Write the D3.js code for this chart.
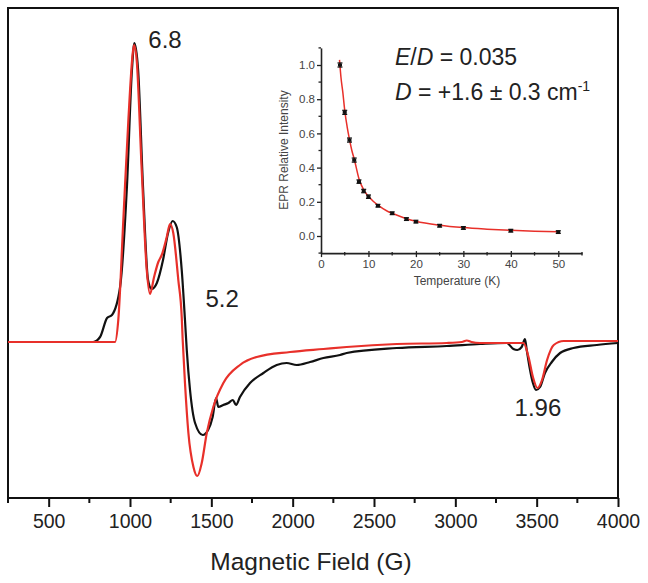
<!DOCTYPE html>
<html><head><meta charset="utf-8">
<script src="https://cdn.jsdelivr.net/npm/d3@7"></script>
<style>
html,body{margin:0;padding:0;background:#fff;}
svg{display:block;font-family:"Liberation Sans",Arial,sans-serif;}
</style></head>
<body><svg id="c" width="648" height="583"></svg>
<script>
// ---- main spectrum data (field in G, intensity in arb. units) ----
const expField = [250,700,773,816,859,889,939,981,1012,1027,1050,1080,1111,1133,1165,1203,1234,1262,1287,1318,1338,1349,1369,1400,1447,1480,1508,1529,1543,1574,1605,1632,1652,1676,1738,1820,1902,1963,2025,2107,2189,2291,2332,2640,2947,3152,3316,3357,3381,3408,3428,3439,3456,3477,3496,3521,3551,3593,3644,3726,3870,4000];
const expInt   = [0,0,0,0.05,0.24,0.27,0.55,1.55,2.72,2.99,2.72,1.55,0.62,0.53,0.59,0.82,1.09,1.21,1.15,0.72,0.22,-0.08,-0.48,-0.81,-0.93,-0.88,-0.75,-0.56,-0.65,-0.63,-0.61,-0.58,-0.63,-0.55,-0.41,-0.31,-0.23,-0.21,-0.23,-0.20,-0.16,-0.13,-0.11,-0.06,-0.04,-0.02,-0.01,-0.07,-0.08,-0.05,0.03,-0.08,-0.25,-0.41,-0.48,-0.45,-0.31,-0.20,-0.11,-0.06,-0.03,-0.01];
const simField = [250,908,928,959,990,1017,1025,1041,1072,1103,1123,1148,1174,1195,1226,1246,1266,1297,1318,1324,1338,1359,1390,1414,1441,1472,1512,1574,1676,1779,1984,2189,2332,2640,2947,3040,3070,3100,3152,3419,3450,3477,3505,3533,3564,3605,3666,4000];
const simInt   = [0,0,0.22,1.22,2.22,2.89,2.97,2.82,1.72,0.72,0.48,0.65,0.80,0.87,1.05,1.18,1.09,0.62,0.25,0.02,-0.41,-0.91,-1.25,-1.34,-1.21,-0.91,-0.65,-0.41,-0.23,-0.15,-0.10,-0.07,-0.05,-0.02,-0.01,0,0.015,0,-0.01,-0.01,-0.15,-0.35,-0.46,-0.38,-0.18,-0.03,0.01,0.01];
const fieldTicks = [500,1000,1500,2000,2500,3000,3500,4000];
const fieldMinor = [250,750,1250,1750,2250,2750,3250,3750];
const peakLabels = ["6.8","5.2","1.96"];
const peakFields = [1215,1566,3508];
const peakInts   = [2.94,0.35,-0.74];

// ---- inset data ----
const tempK    = [4,5,6,7,8,9,10,12,15,18,20,25,30,40,50];
const relInt   = [1.0,0.723,0.561,0.444,0.318,0.263,0.23,0.177,0.133,0.099,0.084,0.06,0.047,0.031,0.023];
const relErr   = [0.012,0.012,0.012,0.012,0.01,0.01,0.01,0.008,0.008,0.008,0.008,0.008,0.008,0.008,0.008];
const fitT     = [3.9,4.2,4.6,5,5.5,6,6.5,7,8,9,10,11,12,14,15,18,20,25,30,35,40,45,50];
const fitI     = [1.03,0.93,0.84,0.735,0.64,0.565,0.5,0.45,0.335,0.27,0.232,0.203,0.18,0.145,0.133,0.101,0.086,0.063,0.049,0.04,0.033,0.028,0.025];
const insetXTicks = [0,10,20,30,40,50];
const insetXMinor = [5,15,25,35,45,55];
const insetYTicks = [0.0,0.2,0.4,0.6,0.8,1.0];
const insetYMinor = [-0.1,0.1,0.3,0.5,0.7,0.9,1.1];

const RED = "#e8302a";
const svg = d3.select("#c");

// ---- main plot ----
const x = d3.scaleLinear().domain([250,4000]).range([8,618]);
const y = d3.scaleLinear().domain([-1.56,3.34]).range([498,8]);

svg.append("rect").attr("x",8).attr("y",8).attr("width",610).attr("height",490)
  .attr("fill","none").attr("stroke","#111").attr("stroke-width",2);

const line = d3.line().x(d=>x(d[0])).y(d=>y(d[1])).curve(d3.curveMonotoneX);
svg.append("path").datum(expField.map((f,i)=>[f,expInt[i]]))
  .attr("d",line).attr("fill","none").attr("stroke","#111").attr("stroke-width",2.2);
svg.append("path").datum(simField.map((f,i)=>[f,simInt[i]]))
  .attr("d",line).attr("fill","none").attr("stroke",RED).attr("stroke-width",2.2);

const xAxis = d3.axisBottom(x).tickValues(fieldTicks).tickSize(9).tickPadding(6).tickSizeOuter(0).tickFormat(d3.format("d"));
const gx = svg.append("g").attr("transform","translate(0,498)").call(xAxis);
gx.select(".domain").remove();
gx.selectAll(".tick line").attr("stroke","#111").attr("stroke-width",2);
gx.selectAll(".tick text").attr("font-size","19.5px").attr("fill","#222")
  .attr("font-family","Liberation Sans, Arial, sans-serif").attr("dy","0.71em").attr("y",16);
gx.selectAll(".minor").data(fieldMinor).enter().append("line")
  .attr("x1",d=>x(d)).attr("x2",d=>x(d)).attr("y1",0).attr("y2",5)
  .attr("stroke","#111").attr("stroke-width",2);

svg.append("text").attr("x",311).attr("y",570).attr("text-anchor","middle")
  .attr("font-size","24.5px").attr("fill","#222").text("Magnetic Field (G)");

svg.selectAll(".pl").data(peakLabels).enter().append("text")
  .attr("x",(d,i)=>x(peakFields[i])).attr("y",(d,i)=>y(peakInts[i]))
  .attr("text-anchor","middle").attr("font-size","24px").attr("fill","#222").text(d=>d);

// ---- inset ----
const ix = d3.scaleLinear().domain([0,55]).range([321,582]);
const iy = d3.scaleLinear().domain([-0.1,1.1]).range([253.1,47.9]);

const gix = svg.append("g").attr("transform","translate(0,253.1)")
  .call(d3.axisBottom(ix).tickValues(insetXTicks).tickSize(4).tickPadding(3).tickSizeOuter(0).tickFormat(d3.format("d")));
gix.select(".domain").attr("stroke","#222").attr("stroke-width",1.6);
gix.selectAll(".tick line").attr("stroke","#222").attr("stroke-width",1.3).attr("y1",-2);
gix.selectAll(".tick text").attr("font-size","11.5px").attr("fill","#444").attr("font-family","Liberation Sans, Arial, sans-serif");
gix.selectAll(".mn").data(insetXMinor).enter().append("line")
  .attr("x1",d=>ix(d)).attr("x2",d=>ix(d)).attr("y1",-1).attr("y2",2.5)
  .attr("stroke","#222").attr("stroke-width",1.3);

const giy = svg.append("g").attr("transform","translate(321,0)")
  .call(d3.axisLeft(iy).tickValues(insetYTicks).tickSize(4).tickPadding(2).tickSizeOuter(0).tickFormat(d3.format(".1f")));
giy.select(".domain").attr("stroke","#222").attr("stroke-width",1.6);
giy.selectAll(".tick line").attr("stroke","#222").attr("stroke-width",1.3);
giy.selectAll(".tick text").attr("font-size","11.5px").attr("fill","#444").attr("font-family","Liberation Sans, Arial, sans-serif");
giy.selectAll(".mn").data(insetYMinor).enter().append("line")
  .attr("x1",-2.5).attr("x2",0).attr("y1",d=>iy(d)).attr("y2",d=>iy(d))
  .attr("stroke","#222").attr("stroke-width",1.3);

svg.append("text").attr("transform","translate(288,150) rotate(-90)").attr("text-anchor","middle")
  .attr("font-size","12px").attr("fill","#444").text("EPR Relative Intensity");
svg.append("text").attr("x",457).attr("y",285).attr("text-anchor","middle")
  .attr("font-size","12px").attr("fill","#444").text("Temperature (K)");

// fit curve
const fitLine = d3.line().x(d=>ix(d[0])).y(d=>iy(d[1])).curve(d3.curveMonotoneX);
svg.append("path").datum(fitT.map((t,i)=>[t,fitI[i]])).attr("d",fitLine)
  .attr("fill","none").attr("stroke",RED).attr("stroke-width",1.5);

// points with error bars
const pts = svg.append("g");
tempK.forEach((t,i)=>{
  const cx = ix(t), v = relInt[i], e = relErr[i];
  pts.append("line").attr("x1",cx).attr("x2",cx).attr("y1",iy(v+e)).attr("y2",iy(v-e)).attr("stroke","#111").attr("stroke-width",1.2);
  pts.append("line").attr("x1",cx-2.5).attr("x2",cx+2.5).attr("y1",iy(v+e)).attr("y2",iy(v+e)).attr("stroke","#111").attr("stroke-width",1.2);
  pts.append("line").attr("x1",cx-2.5).attr("x2",cx+2.5).attr("y1",iy(v-e)).attr("y2",iy(v-e)).attr("stroke","#111").attr("stroke-width",1.2);
  pts.append("rect").attr("x",cx-2).attr("y",iy(v)-1.5).attr("width",4).attr("height",3).attr("fill","#111");
});

// parameter text
const t1 = svg.append("text").attr("x",395).attr("y",65).attr("font-size","23px").attr("fill","#222");
t1.append("tspan").attr("font-style","italic").text("E");
t1.append("tspan").text("/");
t1.append("tspan").attr("font-style","italic").text("D");
t1.append("tspan").text(" = 0.035");
const t2 = svg.append("text").attr("x",395).attr("y",100).attr("font-size","23px").attr("fill","#222");
t2.append("tspan").attr("font-style","italic").text("D");
t2.append("tspan").text(" = +1.6 \u00b1 0.3 cm");
t2.append("tspan").attr("font-size","14px").attr("dy","-9").text("-1");
</script></body></html>
